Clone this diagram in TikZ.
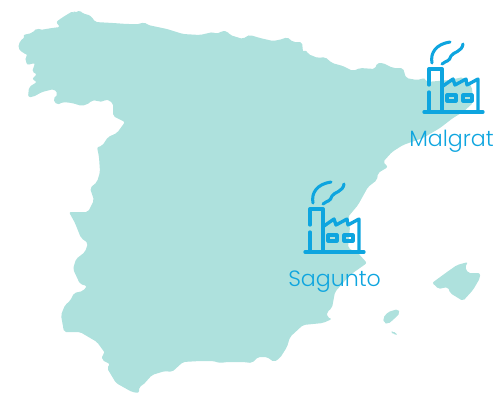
\documentclass[tikz,border=0pt]{standalone}
\usepackage{fontspec}
\setmainfont{Poppins}[UprightFont=* Light]
\definecolor{land}{HTML}{AEE1DD}
\definecolor{ink}{HTML}{0EA5DF}
\tikzset{
  landshape/.style={fill=land,draw=none,rounded corners=1.5pt},
  stroke/.style={draw=ink,line width=2.3pt,line cap=round,line join=round},
  heavy/.style={draw=ink,line width=2.5pt,line cap=round,line join=round},
  place/.style={text=ink,inner sep=0pt,font=\fontsize{16.6}{18}\selectfont,anchor=base west},
  factory/.pic={
    \draw[heavy] (424,112) -- (483,112);
    \draw[heavy] (429,85) -- (429,69) -- (442,69) -- (442,112);
    \draw[heavy] (429,92) -- (429,112);
    \draw[heavy] (443,86) -- (453,79) -- (455,85) -- (466,79) -- (467,85) -- (478,79) -- (478,112);
    \draw[stroke] (447,95) rectangle (456,101);
    \draw[stroke] (463,95) rectangle (472,101);
    \draw[stroke] (432,63) .. controls (430,53) and (436,44) .. (450,42);
    \draw[stroke] (442,64) .. controls (447,60) and (449,62) .. (451,56) .. controls (453,52) and (462,52) .. (463,44);
  }
}
\begin{document}
\begin{tikzpicture}[x=0.75pt,y=-0.75pt]
\useasboundingbox (0,0) rectangle (493,393);
\fill[landshape] (56,22) -- (63,17) -- (73,11) -- (75,13) -- (80,10) -- (83,14) -- (87,14) -- (92,17) -- (95,22) -- (113,23) -- (127,24) -- (140,24) -- (144,22) -- (148,25) -- (167,29) -- (183,34) -- (200,35) -- (213,32) -- (217,34) -- (222,31) -- (227,31) -- (230,35) -- (243,39) -- (247,36) -- (250,35) -- (260,38) -- (273,41) -- (283,39) -- (287,37) -- (293,42) -- (302,42) -- (303,52) -- (306,50) -- (308,54) -- (318,58) -- (325,57) -- (332,63) -- (343,66) -- (353,71) -- (360,68) -- (375,69) -- (377,63) -- (383,63) -- (393,68) -- (403,68) -- (406,78) -- (417,80) -- (425,78) -- (426,82) -- (450,80) -- (463,77) -- (468,83) -- (472,87) -- (473,103) -- (463,112) -- (453,118) -- (440,128) -- (423,138) -- (403,145) -- (392,152) -- (383,162) -- (388,167) -- (378,173) -- (377,180) -- (368,187) -- (358,205) -- (348,217) -- (350,227) -- (348,248) -- (358,253) -- (367,263) -- (350,275) -- (335,292) -- (332,308) -- (327,312) -- (327,317) -- (332,319) -- (323,323) -- (303,325) -- (290,337) -- (287,347) -- (280,358) -- (274,362) -- (267,357) -- (258,357) -- (252,363) -- (243,362) -- (227,362) -- (220,363) -- (213,361) -- (200,361) -- (183,362) -- (172,372) -- (165,371) -- (152,375) -- (143,385) -- (139,387) -- (139,393) -- (132,392) -- (116,383) -- (107,368) -- (110,364) -- (102,360) -- (102,355) -- (105,353) -- (97,342) -- (80,332) -- (64,332) -- (61,315) -- (65,305) -- (70,301) -- (74,293) -- (83,291) -- (87,286) -- (80,284) -- (73,269) -- (76,259) -- (85,252) -- (88,243) -- (81,238) -- (75,223) -- (69,212) -- (88,212) -- (94,200) -- (90,188) -- (97,182) -- (100,172) -- (99,157) -- (97,147) -- (102,146) -- (108,137) -- (117,133) -- (125,122) -- (113,116) -- (113,103) -- (106,99) -- (103,102) -- (92,100) -- (90,103) -- (82,106) -- (72,103) -- (63,102) -- (57,105) -- (53,99) -- (58,94) -- (54,89) -- (42,92) -- (33,97) -- (28,97) -- (29,87) -- (37,82) -- (32,79) -- (37,74) -- (32,72) -- (35,63) -- (27,65) -- (25,57) -- (28,55) -- (23,53) -- (18,48) -- (20,41) -- (25,37) -- (23,35) -- (32,33) -- (37,28) -- (40,30) -- (52,28) -- (60,27) -- cycle;
\fill[landshape] (432,283) -- (447,272) -- (457,265) -- (468,262) -- (465,267) -- (468,273) -- (480,273) -- (480,278) -- (473,290) -- (463,301) -- (450,293) -- (448,287) -- (438,289) -- (435,285) -- cycle;
\fill[landshape] (383,318) -- (388,312) -- (398,309) -- (400,313) -- (393,320) -- (388,324) -- (384,323) -- cycle;
\fill[landshape] (391,332) -- (393,331) -- (398,335) -- (393,334) -- cycle;
\pic {factory};
\pic[xshift=-89.25pt,yshift=-105pt] {factory};
\node[place] (malgrat) at (409,146) {Malgrat};
\node[place] (sagunto) at (288,286) {Sagunto};
\end{tikzpicture}
\end{document}
